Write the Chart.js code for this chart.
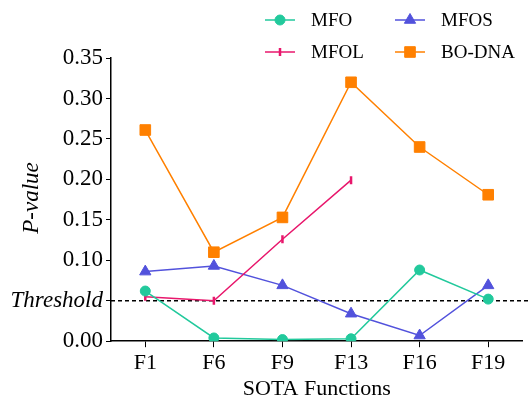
<!DOCTYPE html>
<html lang="en">
  <head>
    <meta charset="UTF-8" />
    <title>P-value of SOTA Functions</title>
    <style>
      body { margin: 0; background: #ffffff; }
      #wrap { width: 531px; height: 405px; }
    </style>
    <script src="https://cdn.jsdelivr.net/npm/chart.js"></script>
  </head>
  <body>
    <div id="wrap"><canvas id="pChart" width="531" height="405"></canvas></div>
    <script>
      // data
      const functions = ["F1", "F6", "F9", "F13", "F16", "F19"];
      const mfo = [0.062, 0.004, 0.002, 0.003, 0.088, 0.052];
      const mfol = [0.055, 0.050, 0.126, 0.199, null, null];
      const mfos = [0.086, 0.093, 0.069, 0.034, 0.007, 0.069];
      const boDna = [0.261, 0.110, 0.153, 0.320, 0.240, 0.181];
      const yTicks = [0, 0.05, 0.10, 0.15, 0.20, 0.25, 0.30, 0.35];
      const yTickLabels = ["0.00", "Threshold", "0.10", "0.15", "0.20", "0.25", "0.30", "0.35"];
      const threshold = 0.05;

      const serif = "Liberation Serif";

      const colors = {
        mfo: "#22c99c",
        mfol: "#e8176c",
        mfos: "#5252dc",
        boDna: "#ff8000"
      };

      const datasets = [
        { label: "MFO", data: mfo, color: colors.mfo, pointStyle: "circle", pointRadius: 5, rotation: 0, bw: 1 },
        { label: "MFOL", data: mfol, color: colors.mfol, pointStyle: "line", pointRadius: 4, rotation: 90, bw: 2.5 },
        { label: "MFOS", data: mfos, color: colors.mfos, pointStyle: "triangle", pointRadius: 6.5, rotation: 0, bw: 1 },
        { label: "BO-DNA", data: boDna, color: colors.boDna, pointStyle: "rect", pointRadius: 7.5, rotation: 0, bw: 1 }
      ].map(d => ({
        label: d.label,
        data: d.data,
        borderColor: d.color,
        backgroundColor: d.color,
        borderWidth: 1.5,
        pointStyle: d.pointStyle,
        pointRadius: d.pointRadius,
        pointRotation: d.rotation,
        pointBorderWidth: d.bw,
        pointBackgroundColor: d.color,
        pointBorderColor: d.color,
        spanGaps: false,
        tension: 0
      }));

      // dashed threshold line + y title + two-column legend
      const extras = {
        id: "extras",
        beforeDatasetsDraw(chart) {
          const { ctx, chartArea, scales } = chart;
          const y = scales.y.getPixelForValue(threshold);
          ctx.save();
          ctx.strokeStyle = "#000";
          ctx.lineWidth = 1.3;
          ctx.setLineDash([4, 3]);
          ctx.beginPath();
          ctx.moveTo(chartArea.left, y);
          ctx.lineTo(chart.width, y);
          ctx.stroke();
          ctx.restore();
        },
        afterDraw(chart) {
          const ctx = chart.ctx;
          ctx.save();
          ctx.fillStyle = "#000";
          ctx.font = "italic 23px '" + serif + "'";
          ctx.textAlign = "center";
          ctx.textBaseline = "middle";
          ctx.translate(32, 198);
          ctx.rotate(-Math.PI / 2);
          ctx.fillText("P-value", 0, 0);
          ctx.restore();

          const spots = [[265, 20], [265, 52], [395, 20], [395, 52]];
          ctx.save();
          ctx.font = "19px '" + serif + "'";
          ctx.textBaseline = "middle";
          chart.data.datasets.forEach((ds, k) => {
            const [x0, y0] = spots[k];
            ctx.strokeStyle = ds.borderColor;
            ctx.lineWidth = 1.5;
            ctx.beginPath();
            ctx.moveTo(x0, y0);
            ctx.lineTo(x0 + 30, y0);
            ctx.stroke();
            ctx.fillStyle = ds.pointBackgroundColor;
            ctx.lineWidth = ds.pointBorderWidth;
            Chart.helpers.drawPoint(ctx, {
              pointStyle: ds.pointStyle,
              radius: ds.pointRadius,
              rotation: ds.pointRotation,
              borderWidth: ds.pointBorderWidth
            }, x0 + 15, y0);
            ctx.fillStyle = "#000";
            ctx.fillText(ds.label, x0 + 46, y0 + 1);
          });
          ctx.restore();
        }
      };

      function draw() {
        new Chart(document.getElementById("pChart"), {
          type: "line",
          data: { labels: functions, datasets: datasets },
          options: {
            responsive: false,
            animation: false,
            layout: { padding: { top: 58, right: 2, left: 0, bottom: 0 } },
            plugins: {
              legend: { display: false },
              tooltip: { enabled: false }
            },
            scales: {
              x: {
                offset: true,
                grid: { drawOnChartArea: false, drawTicks: true, tickLength: 6, color: "#000", offset: false },
                border: { display: true, color: "#000", width: 1.5 },
                ticks: { color: "#000", font: { family: serif, size: 22 }, padding: 3 },
                title: { display: true, text: "SOTA Functions", color: "#000", font: { family: serif, size: 22 }, padding: { top: -4, bottom: 3 } }
              },
              y: {
                min: 0,
                max: 0.35,
                afterFit(scale) { scale.width = 111; },
                afterBuildTicks(scale) { scale.ticks = yTicks.map(v => ({ value: v })); },
                grid: { drawOnChartArea: false, drawTicks: true, tickLength: 5, color: "#000" },
                border: { display: true, color: "#000", width: 1.5 },
                ticks: {
                  color: "#000",
                  padding: 3,
                  callback: (v, i) => yTickLabels[i],
                  font: ctx => ({
                    family: serif,
                    size: 23,
                    style: ctx.index === 1 ? "italic" : "normal"
                  })
                }
              }
            }
          },
          plugins: [extras]
        });
      }

      Promise.all([
        document.fonts.load("22px '" + serif + "'"),
        document.fonts.load("italic 22px '" + serif + "'")
      ]).then(draw, draw);
    </script>
  </body>
</html>
